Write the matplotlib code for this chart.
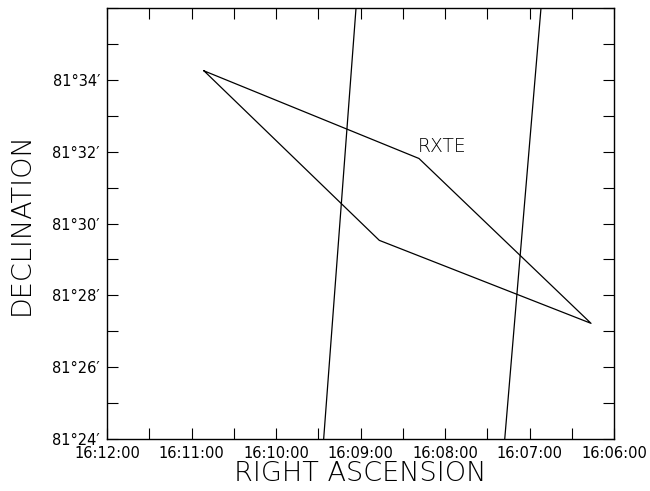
import numpy as np
import matplotlib
matplotlib.use('Agg')
import matplotlib.pyplot as plt
from matplotlib.ticker import MultipleLocator, FuncFormatter

# RA in minutes past 16h, Dec in arcmin past 81 deg
rxte_ra = [10.852, 8.308, 6.272, 8.777, 10.852]
rxte_dec = [34.25, 31.81, 27.22, 29.53, 34.25]

line1_ra = [9.436, 9.053]
line1_dec = [24.0, 36.0]
line2_ra = [7.293, 6.864]
line2_dec = [24.0, 36.0]

ra_lim = (12, 6)
dec_lim = (24, 36)

plt.rcParams['font.family'] = 'DejaVu Sans'

fig = plt.figure(figsize=(6.5, 4.91), dpi=100)
ax = fig.add_axes([107/650, 52/491, 507/650, 431/491])

ax.plot(rxte_ra, rxte_dec, color='black', lw=0.9)
ax.plot(line1_ra, line1_dec, color='black', lw=0.9)
ax.plot(line2_ra, line2_dec, color='black', lw=0.9)
ax.text(8.32, 32.0, 'RXTE', fontsize=13.5, ha='left', va='baseline',
        fontweight='light', color='black')

ax.set_xlim(*ra_lim)
ax.set_ylim(*dec_lim)

def ra_fmt(v, pos):
    m = int(round(v))
    return '16:%02d:00' % m

def dec_fmt(v, pos):
    d = int(round(v))
    if d >= dec_lim[1]:
        return ''
    return '81\u00b0%02d\u2032' % d

ax.xaxis.set_major_locator(MultipleLocator(1))
ax.xaxis.set_minor_locator(MultipleLocator(0.5))
ax.yaxis.set_major_locator(MultipleLocator(2))
ax.yaxis.set_minor_locator(MultipleLocator(1))
ax.xaxis.set_major_formatter(FuncFormatter(ra_fmt))
ax.yaxis.set_major_formatter(FuncFormatter(dec_fmt))

ax.tick_params(which='both', direction='in', top=True, right=True,
               length=8, width=0.8, labelsize=10.5)
ax.tick_params(axis='x', pad=5)
ax.tick_params(axis='y', pad=5)
for s in ax.spines.values():
    s.set_linewidth(1.0)

ax.set_xlabel('RIGHT ASCENSION', fontsize=19.5, fontweight='light')
ax.set_ylabel('DECLINATION', fontsize=19.5, fontweight='light')
ax.xaxis.set_label_coords(0.5, -0.05)
ax.yaxis.set_label_coords(-0.145, 0.5)

fig.savefig('out.png', dpi=100)
